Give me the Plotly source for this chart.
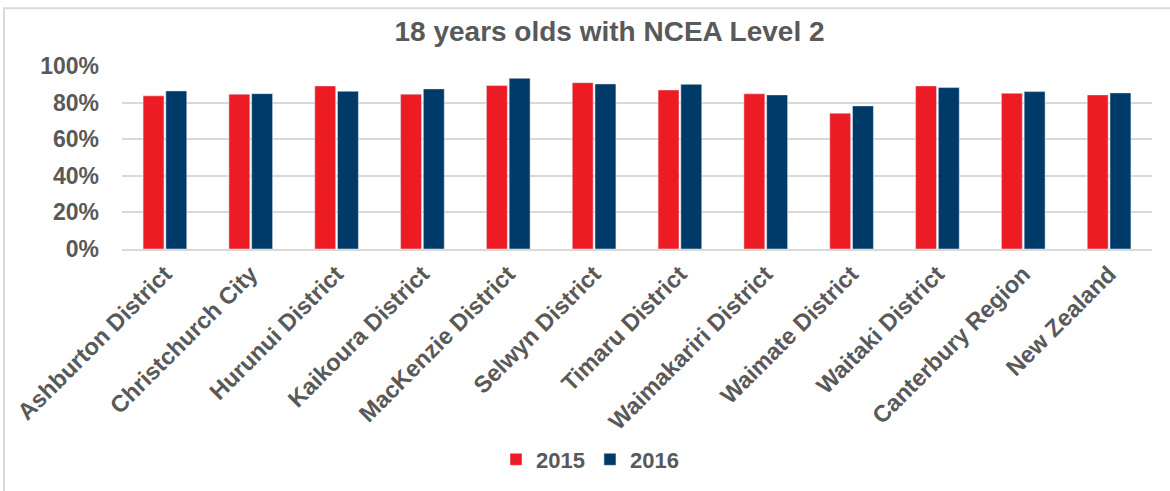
import plotly.graph_objects as go

categories = ["Ashburton District", "Christchurch City", "Hurunui District", "Kaikoura District",
              "MacKenzie District", "Selwyn District", "Timaru District", "Waimakariri District",
              "Waimate District", "Waitaki District", "Canterbury Region", "New Zealand"]
values_2015 = [0.837, 0.846, 0.891, 0.846, 0.893, 0.909, 0.869, 0.848, 0.742, 0.891, 0.851, 0.842]
values_2016 = [0.864, 0.849, 0.862, 0.875, 0.933, 0.902, 0.900, 0.842, 0.782, 0.882, 0.860, 0.853]
y_ticks = [0, 0.2, 0.4, 0.6, 0.8, 1.0]

RED = "#ED1C24"
NAVY = "#003A68"
GRAY = "#595959"
GRID = "#D9D9D9"
FONT = "Liberation Sans, Arial, sans-serif"

fig = go.Figure()
fig.add_trace(go.Bar(name="2015", x=categories, y=values_2015, marker=dict(color=RED)))
fig.add_trace(go.Bar(name="2016", x=categories, y=values_2016, marker=dict(color=NAVY)))

W, H = 1170, 491
ml, mr, mt, mb = 122, 18, 66, 241
pw, ph = W - ml - mr, H - mt - mb

def px_x(x):
    return (x - ml) / pw

def px_y(y):
    return (H - mb - y) / ph

fig.update_layout(
    width=W, height=H,
    margin=dict(l=ml, r=mr, t=mt, b=mb, pad=0),
    paper_bgcolor="white", plot_bgcolor="white",
    barmode="group", bargap=0.47, bargroupgap=0.08,
    title=dict(text="18 years olds with NCEA Level 2", xref="container", x=609.5 / W,
               xanchor="center", yref="container", y=1 - 31 / H, yanchor="middle",
               font=dict(family=FONT, size=28, color=GRAY, weight="bold")),
    font=dict(family=FONT, color=GRAY),
    xaxis=dict(tickangle=-45, tickfont=dict(family=FONT, size=23.5, color=GRAY, weight="bold"),
               showgrid=False, showline=True, linecolor=GRID, linewidth=2,
               ticks=""),
    yaxis=dict(range=[0, 1.0], tickvals=y_ticks, tickformat=".0%",
               tickfont=dict(family=FONT, size=23, color=GRAY, weight="bold"),
               showgrid=True, gridcolor=GRID, gridwidth=2,
               zeroline=False, showline=False, ticks="", ticklabelstandoff=22),
    legend=dict(orientation="h", x=px_x(590), xanchor="center", y=px_y(459.5), yanchor="middle",
                font=dict(family=FONT, size=22, color=GRAY, weight="bold"), itemwidth=30,
                traceorder="normal"),
    shapes=[dict(type="rect", xref="paper", yref="paper",
                 x0=px_x(4), x1=px_x(1180), y0=px_y(510), y1=px_y(8),
                 line=dict(color=GRID, width=2), fillcolor="rgba(0,0,0,0)", layer="below")],
)

fig.write_html("out.html", config={"displayModeBar": False},
               post_script="document.body.style.margin='0';")
